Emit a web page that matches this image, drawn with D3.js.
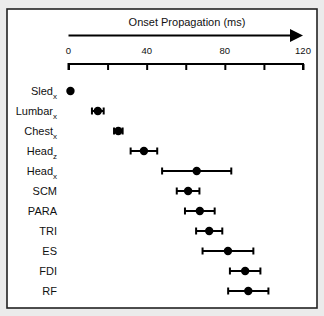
<!DOCTYPE html>
<html><head><meta charset="utf-8">
<script src="https://cdn.jsdelivr.net/npm/d3@7"></script>
<style>
html,body{margin:0;padding:0;background:#ebebeb;}
svg{display:block;font-family:"Liberation Sans",Arial,Helvetica,sans-serif;}
</style></head>
<body>
<svg id="c" width="324" height="316"></svg>
<script>
const labels = ["Sled","Lumbar","Chest","Head","Head","SCM","PARA","TRI","ES","FDI","RF"];
const subs   = ["x","x","x","z","x","","","","","",""];
const means  = [1, 15, 25.5, 38.6, 65.6, 61.2, 67.2, 72, 81.6, 90.4, 92];
const errs   = [0, 3, 2.2, 6.8, 17.7, 5.8, 7.6, 6.7, 13, 7.8, 10.3];
const tickVals = [0, 20, 40, 60, 80, 100, 120];
const tickLabels = ["0", "40", "80", "120"];
const title = "Onset Propagation (ms)";

const svg = d3.select("#c");
svg.append("rect").attr("x",7).attr("y",9).attr("width",310).attr("height",299)
  .attr("fill","#fff").attr("stroke","#222").attr("stroke-width",1.6);

const x = d3.scaleLinear().domain([0,120]).range([68.5,303]);
const y = d3.scalePoint().domain(d3.range(labels.length)).range([91,291]);

// title
svg.append("text").attr("x",187).attr("y",26).attr("text-anchor","middle")
  .attr("font-size",11).attr("fill","#111").text(title);

// arrow
const defs = svg.append("defs");
defs.append("marker").attr("id","ah").attr("viewBox","0 0 10 10").attr("refX",0).attr("refY",5)
  .attr("markerWidth",13).attr("markerHeight",13).attr("markerUnits","userSpaceOnUse").attr("orient","auto")
  .append("path").attr("d","M0,0L10,5L0,10Z").attr("fill","#000");
svg.append("line").attr("x1",x(0)).attr("x2",x(120)-13).attr("y1",35.5).attr("y2",35.5)
  .attr("stroke","#000").attr("stroke-width",2).attr("marker-end","url(#ah)");

// axis
const axis = d3.axisBottom(x).tickValues(tickVals).tickSize(6).tickFormat("");
const ag = svg.append("g").attr("transform","translate(0,64)").call(axis);
ag.select(".domain").attr("d", `M${x(0)},6V0H${x(120)}V6`).attr("stroke","#000").attr("stroke-width",2);
ag.selectAll(".tick line").attr("stroke","#000").attr("stroke-width",2);
svg.selectAll(".tl").data(tickLabels).enter().append("text").attr("class","tl")
  .attr("x",d=>x(+d)).attr("y",54).attr("text-anchor","middle").attr("font-size",9.5).attr("fill","#111").text(d=>d);

// row labels
const lg = svg.selectAll(".lab").data(labels).enter().append("text").attr("class","lab")
  .attr("x",57).attr("y",(d,i)=>y(i)+4).attr("text-anchor","end").attr("font-size",11).attr("fill","#111");
lg.append("tspan").text(d=>d);
lg.append("tspan").attr("font-size",8).attr("dy",4).text((d,i)=>subs[i]);

// error bars
const rows = d3.range(labels.length).filter(i=>errs[i]>0);
const eg = svg.append("g").attr("stroke","#000").attr("stroke-width",2);
eg.selectAll(".eb").data(rows).enter().append("line")
  .attr("x1",i=>x(means[i]-errs[i])).attr("x2",i=>x(means[i]+errs[i]))
  .attr("y1",i=>y(i)).attr("y2",i=>y(i));
eg.selectAll(".cl").data(rows).enter().append("line")
  .attr("x1",i=>x(means[i]-errs[i])).attr("x2",i=>x(means[i]-errs[i]))
  .attr("y1",i=>y(i)-3.5).attr("y2",i=>y(i)+3.5);
eg.selectAll(".cr").data(rows).enter().append("line")
  .attr("x1",i=>x(means[i]+errs[i])).attr("x2",i=>x(means[i]+errs[i]))
  .attr("y1",i=>y(i)-3.5).attr("y2",i=>y(i)+3.5);

// dots
svg.selectAll(".dot").data(means).enter().append("circle")
  .attr("cx",d=>x(d)).attr("cy",(d,i)=>y(i)).attr("r",4.2).attr("fill","#000");
</script>
</body></html>
